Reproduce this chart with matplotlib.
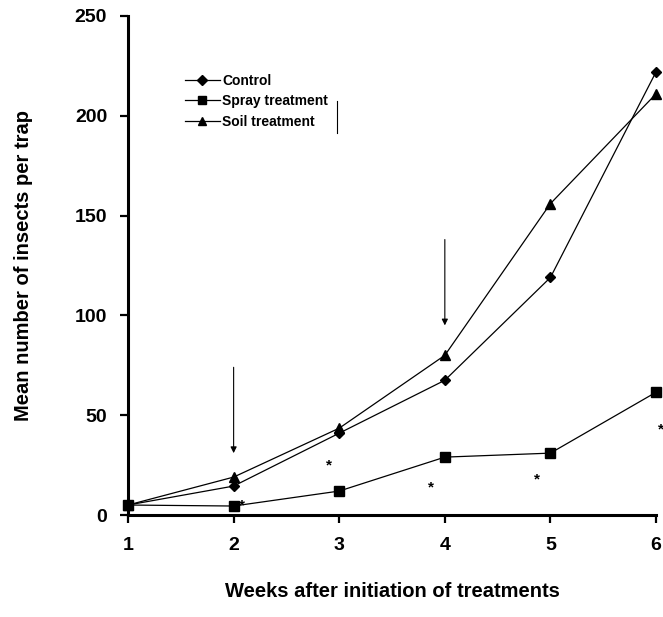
import matplotlib
matplotlib.use('Agg')
import matplotlib.pyplot as plt

plt.rcParams['font.family'] = ['Liberation Sans', 'DejaVu Sans']
plt.rcParams['font.weight'] = 'bold'

# Data
weeks = [1, 2, 3, 4, 5, 6]
control = [5, 14.5, 41, 67.5, 119, 222]
spray = [5, 4.5, 12, 29, 31, 61.5]
soil = [5, 19, 43.5, 80, 156, 211]

# treatment application arrows (x, y_start, y_end)
arrow_x = [2, 4]
arrow_top = [74, 138]
arrow_bottom = [31, 95]

# significance asterisks
star_x = [2.08, 2.9, 3.87, 4.87, 6.05]
star_y = [5, 25, 14, 18, 43]

fig = plt.figure(figsize=(6.63, 6.17), dpi=100)
ax = fig.add_axes([0.1931, 0.1653, 0.7964, 0.8088])

ax.plot(weeks, control, color='black', lw=0.9, marker='D', ms=5.5, label='Control', clip_on=False)
ax.plot(weeks, spray, color='black', lw=0.9, marker='s', ms=7, label='Spray treatment', clip_on=False)
ax.plot(weeks, soil, color='black', lw=0.9, marker='^', ms=6.5, label='Soil treatment', clip_on=False)

for x, y0, y1 in zip(arrow_x, arrow_top, arrow_bottom):
    ax.annotate('', xy=(x, y1), xytext=(x, y0),
                arrowprops=dict(arrowstyle='-|>', color='black', lw=0.8,
                                mutation_scale=9, shrinkA=0, shrinkB=0))

for x, y in zip(star_x, star_y):
    ax.text(x, y, '*', fontsize=11, ha='center', va='center', clip_on=False)

ax.set_xlim(1, 6)
ax.set_ylim(0, 250)
ax.set_xticks(weeks)
ax.set_yticks([0, 50, 100, 150, 200, 250])

ax.spines['top'].set_visible(False)
ax.spines['right'].set_visible(False)
ax.spines['left'].set_linewidth(2.2)
ax.spines['bottom'].set_linewidth(2.2)
ax.tick_params(axis='both', direction='out', length=6, width=1.6, labelsize=14)
ax.tick_params(axis='x', pad=10)
ax.tick_params(axis='y', pad=9)
for lab in ax.get_xticklabels() + ax.get_yticklabels():
    lab.set_fontweight('bold')

ax.set_xlabel('Weeks after initiation of treatments', fontsize=14.5, fontweight='bold', labelpad=20)
ax.set_ylabel('Mean number of insects per trap', fontsize=14.5, fontweight='bold', labelpad=30)

leg = ax.legend(loc='upper left', bbox_to_anchor=(0.279, 0.880), bbox_transform=fig.transFigure,
                frameon=False, borderpad=0, borderaxespad=0,
                prop={'size': 10, 'weight': 'bold'}, handlelength=2.5,
                handletextpad=0.2, labelspacing=0.45, markerscale=0.85)

# stray rule right of the legend, as in the original
ax.plot([0.395, 0.395], [0.765, 0.83], transform=ax.transAxes, color='black', lw=0.8)

fig.savefig('out.png', dpi=100)
